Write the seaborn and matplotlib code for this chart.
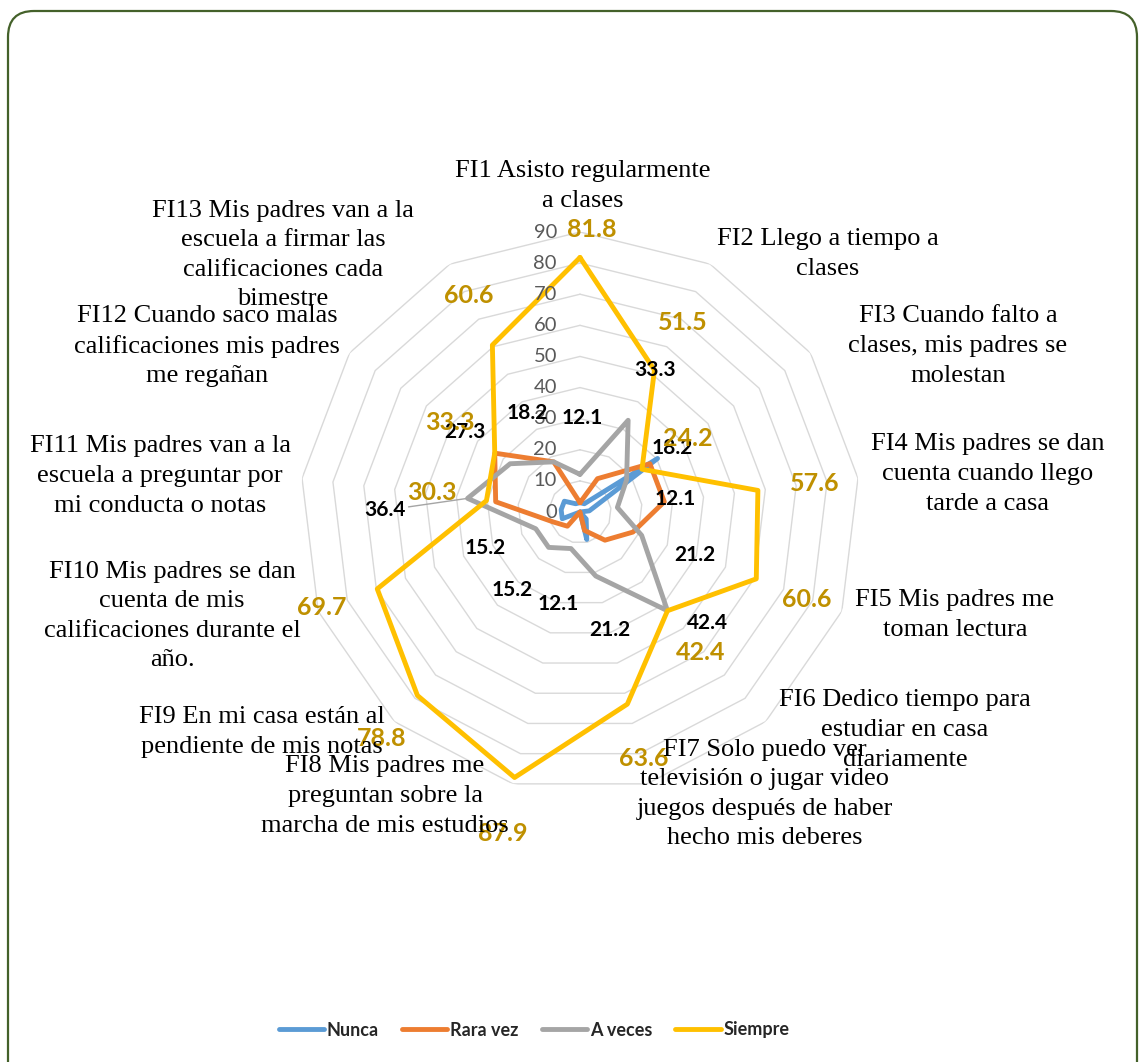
import numpy as np
import pandas as pd
import matplotlib
matplotlib.use("Agg")
import matplotlib.pyplot as plt
import seaborn as sns
from matplotlib.lines import Line2D
from matplotlib.patches import FancyBboxPatch
from matplotlib.transforms import IdentityTransform

# --- data (percent of students, n = 33) ---
categories = [
    "FI1 Asisto regularmente\na clases",
    "FI2 Llego a tiempo a\nclases",
    "FI3 Cuando falto a\nclases, mis padres se\nmolestan",
    "FI4 Mis padres se dan\ncuenta cuando llego\ntarde a casa",
    "FI5 Mis padres me\ntoman lectura",
    "FI6 Dedico tiempo para\nestudiar en casa\ndiariamente",
    "FI7 Solo puedo ver\ntelevisión o jugar video\njuegos después de haber\nhecho mis deberes",
    "FI8 Mis padres me\npreguntan sobre la\nmarcha de mis estudios",
    "FI9 En mi casa están al\npendiente de mis notas",
    "FI10 Mis padres se dan\ncuenta de mis\ncalificaciones durante el\naño.",
    "FI11 Mis padres van a la\nescuela a preguntar por\nmi conducta o notas",
    "FI12 Cuando saco malas\ncalificaciones mis padres\nme regañan",
    "FI13 Mis padres van a la\nescuela a firmar las\ncalificaciones cada\nbimestre",
]
nunca = [3.0, 3.0, 30.3, 3.0, 0.0, 3.0, 9.1, 0.0, 0.0, 6.1, 6.1, 6.1, 3.0]
rara_vez = [3.0, 12.1, 27.3, 27.3, 18.2, 12.1, 6.1, 0.0, 6.1, 9.1, 27.3, 33.3, 18.2]
a_veces = [12.1, 33.3, 18.2, 12.1, 21.2, 42.4, 21.2, 12.1, 15.2, 15.2, 36.4, 27.3, 18.2]
siempre = [81.8, 51.5, 24.2, 57.6, 60.6, 42.4, 63.6, 87.9, 78.8, 69.7, 30.3, 33.3, 60.6]
series_names = ["Nunca", "Rara vez", "A veces", "Siempre"]
r_ticks = [0, 10, 20, 30, 40, 50, 60, 70, 80, 90]

# --- style / layout ---
colors = {"Nunca": "#5B9BD5", "Rara vez": "#ED7D31", "A veces": "#A5A5A5", "Siempre": "#FFC000"}
W, H = 1141, 1062
cx, cy, R = 580, 512, 280  # radar centre and outer radius in pixels

# pixel centres of the category labels (image coords, y down)
cat_xy = [(583, 186), (828, 254), (958, 346), (988, 474), (955, 615), (905, 730),
          (765, 794), (385, 796), (262, 732), (172, 616), (160, 476), (207, 346), (283, 255)]
# data label offsets in pixels from the point (image coords, y down)
siempre_off = [(12, -28), (28, -48), (46, -31), (57, -7), (50, 21), (33, 42), (16, 54),
               (-12, 56), (-36, 43), (-55, 19), (-55, -8), (-45, -31), (-24, -50)]
aveces_off = [(2, -56), (27, -50), (46, -32), (58, -8), (53, 20), (40, 12), (14, 54),
              (-13, 55), (-36, 43), (-51, 19), (-83, 12), (-45, -32), (-26, -49)]

sns.set_theme(style="white")
plt.rcParams["font.family"] = ["Lato", "DejaVu Sans"]

n = len(categories)
theta = np.arange(n) * 2 * np.pi / n
theta_c = np.append(theta, 2 * np.pi)

frames = []
for name, vals in zip(series_names, [nunca, rara_vez, a_veces, siempre]):
    v = list(vals) + [vals[0]]
    frames.append(pd.DataFrame({"theta": theta_c, "value": v, "serie": name}))
df = pd.concat(frames, ignore_index=True)

fig = plt.figure(figsize=(W / 100, H / 100), dpi=100)
ax = fig.add_axes([(cx - R) / W, 1 - (cy + R) / H, 2 * R / W, 2 * R / H], projection="polar")
ax.set_theta_zero_location("N")
ax.set_theta_direction(-1)
ax.set_ylim(0, 90)
ax.grid(False)
ax.set_xticks([])
ax.set_yticks([])
ax.spines["polar"].set_visible(False)
ax.set_facecolor("none")

# polygon gridlines
for lvl in r_ticks[1:]:
    ax.plot(theta_c, [lvl] * (n + 1), color="#D9D9D9", lw=1, zorder=0)

sns.lineplot(data=df, x="theta", y="value", hue="serie", units="serie", estimator=None,
             sort=False, palette=colors, hue_order=series_names, lw=3.5,
             legend=False, ax=ax)
for line in ax.lines[len(r_ticks) - 1:]:
    line.set_solid_joinstyle("round")
ax.set_xlabel("")
ax.set_ylabel("")

# radial tick labels
for t in r_ticks:
    ax.annotate(str(t), xy=(0, t), xytext=(-23, 0), textcoords="offset pixels",
                ha="right", va="center", fontsize=14.5, color="#595959")

# data labels (offsets flipped to display coords)
for k in range(n):
    dx, dy = aveces_off[k]
    ax.annotate(f"{a_veces[k]:.1f}", xy=(theta[k], a_veces[k]), xytext=(dx, -dy),
                textcoords="offset pixels", ha="center", va="center", fontsize=15,
                fontweight="bold", color="black",
                arrowprops=dict(arrowstyle="-", color="#A5A5A5", lw=1, shrinkA=0, shrinkB=0)
                if k == 10 else None)
for k in range(n):
    dx, dy = siempre_off[k]
    ax.annotate(f"{siempre[k]:.1f}", xy=(theta[k], siempre[k]), xytext=(dx, -dy),
                textcoords="offset pixels", ha="center", va="center", fontsize=18,
                fontweight="bold", color="#BF9000")

# category labels
for lab, (x, y) in zip(categories, cat_xy):
    fig.text(x / W, 1 - y / H, lab, ha="center", va="center", multialignment="center",
             fontsize=19, family="Liberation Serif", color="black", linespacing=1.45)

# legend
handles = [Line2D([0], [0], color=colors[s], lw=3.5, solid_capstyle="round") for s in series_names]
fig.legend(handles, series_names, loc="center", bbox_to_anchor=(534 / W, 1 - 1030 / H),
           ncol=4, frameon=False, handlelength=2.5, handletextpad=0.15, columnspacing=1.3,
           prop={"family": "Lato", "weight": "bold", "size": 13})

# rounded chart border
border = FancyBboxPatch((8, -30), 1129, H - 11 + 30, boxstyle="round,pad=0,rounding_size=26",
                        transform=IdentityTransform(), fill=False, edgecolor="#44612A", lw=1.6)
fig.add_artist(border)

fig.savefig("out.png", dpi=100)
